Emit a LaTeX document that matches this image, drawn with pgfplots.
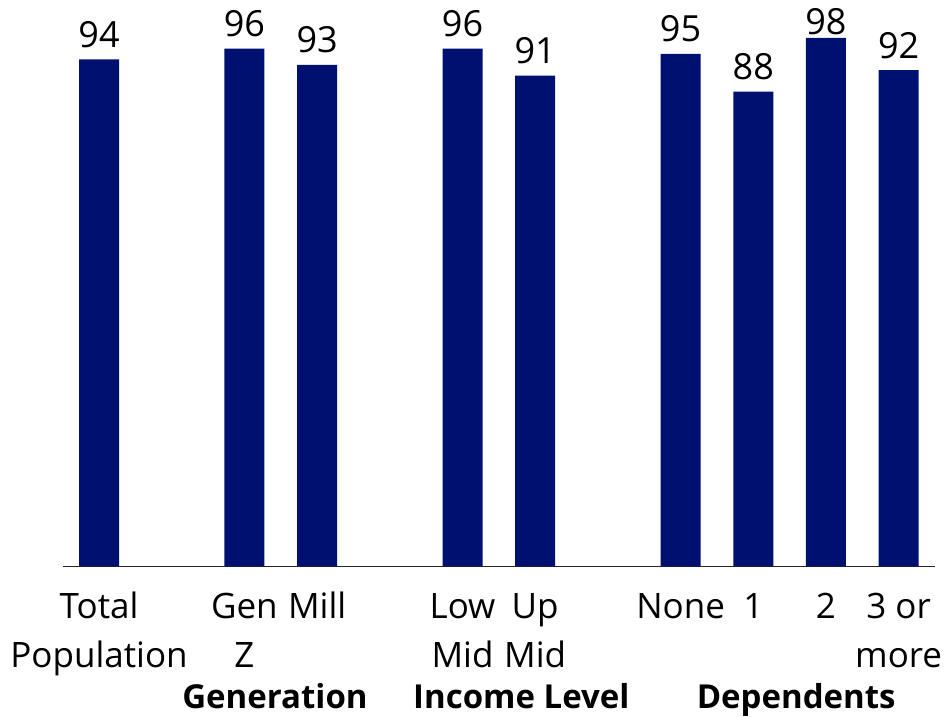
\documentclass[border=0pt]{standalone}
\usepackage{fontspec}
\setmainfont{Open Sans}
\usepackage{pgfplots}
\pgfplotsset{compat=1.18}

\definecolor{barblue}{RGB}{0,16,112}

\begin{document}
\fontsize{35}{49}\selectfont
\begin{tikzpicture}
% fixed canvas around the axis box (axis south west sits at the origin)
\useasboundingbox (-62.7pt,-150.5pt) rectangle (883.3pt,566.5pt);
\begin{axis}[
  name=ax,
  at={(0,0)}, anchor=south west,
  scale only axis,
  width=872.3pt, height=539.5pt,
  xmin=-0.5, xmax=11.5,
  ymin=0, ymax=100,
  clip=false,
  axis x line*=bottom,
  axis y line=none,
  x axis line style={-, line width=1.3pt, black!85},
  major tick length=0pt,
  ytick=\empty,
  xtick={0,2,3,5,6,8,9,10,11},
  xticklabels={
    {\strut Total\\Population},
    {\strut Gen\\Z},
    {\strut Mill},
    {\strut Low\\Mid},
    {\strut Up\\Mid},
    {\strut None},
    {\strut 1},
    {\strut 2},
    {\strut 3 or\\more}},
  xticklabel style={anchor=north, align=center, inner sep=0pt, yshift=-17.2pt,
    font=\fontsize{35}{49}\selectfont},
  /pgf/number format/assume math mode=true,
  ybar,
  bar width=40pt,
  nodes near coords,
  % labels sit 12pt above the bar, except where the page top leaves less room
  visualization depends on={y \as \rawy},
  nodes near coords style={anchor=south, inner sep=0pt,
    yshift={(\rawy>97 ? 3 : 11.5)*1pt},
    font=\fontsize{36}{49}\selectfont, text=black},
]
\addplot[fill=barblue, draw=none] coordinates {
  (0,94) (2,96) (3,93) (5,96) (6,91) (8,95) (9,88) (10,98) (11,92)
};
% group captions under the category labels
\node[anchor=base, yshift=-142pt, font=\fontsize{33}{42}\selectfont\bfseries] at (axis cs:2.42,0) {Generation};
\node[anchor=base, yshift=-142pt, font=\fontsize{33}{42}\selectfont\bfseries] at (axis cs:5.81,0) {Income Level};
\node[anchor=base, yshift=-142pt, font=\fontsize{33}{42}\selectfont\bfseries] at (axis cs:9.59,0) {Dependents};
\end{axis}
\end{tikzpicture}
\end{document}
